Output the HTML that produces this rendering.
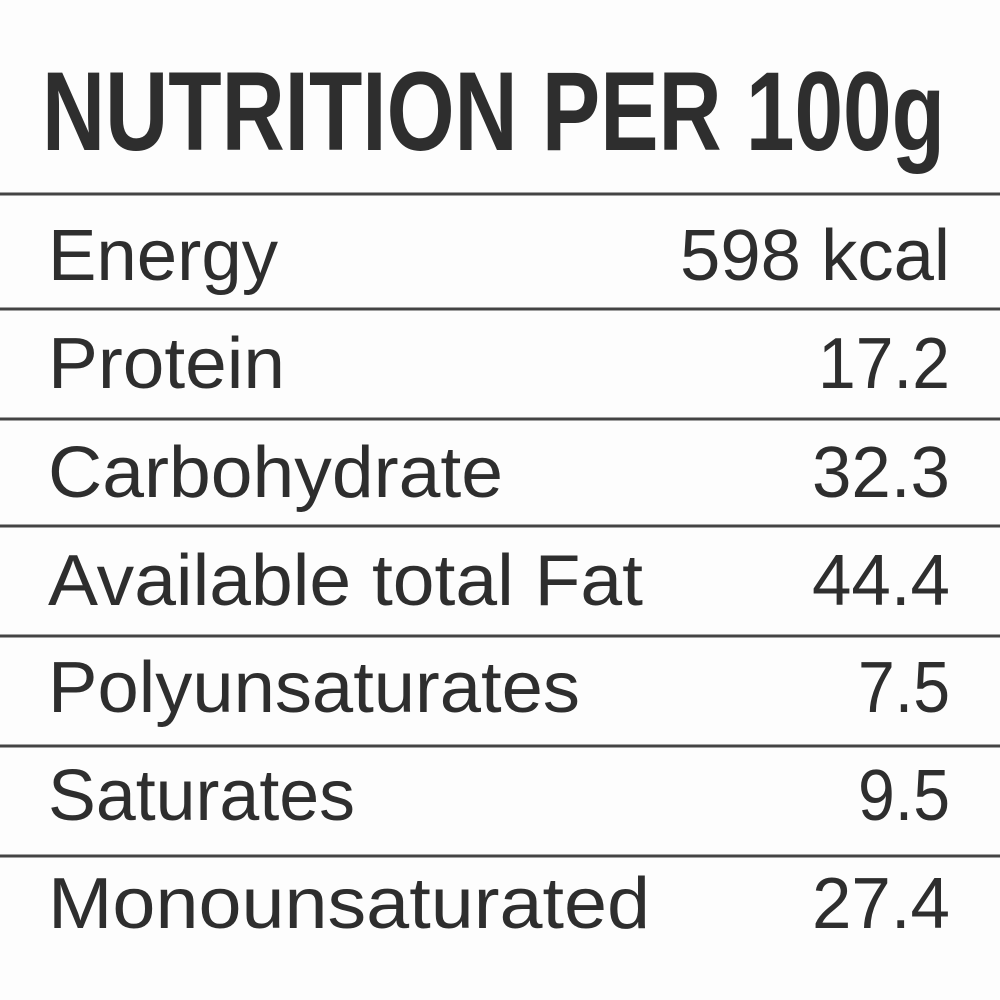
<!DOCTYPE html>
<html>
<head>
<meta charset="utf-8">
<style>
html,body{margin:0;padding:0;background:#fdfdfd;}
svg{display:block;}
text{font-family:"Liberation Sans",sans-serif;fill:#2e2e2e;}
</style>
</head>
<body>
<svg width="1000" height="1000" viewBox="0 0 1000 1000">
<rect x="0" y="0" width="1000" height="1000" fill="#fdfdfd"/>
<text x="42" y="150" font-size="112" font-weight="bold" textLength="903" lengthAdjust="spacingAndGlyphs" fill="#222">NUTRITION PER 100g</text>
<g stroke="#444" stroke-width="3">
<line x1="0" y1="194" x2="1000" y2="194"/>
<line x1="0" y1="309" x2="1000" y2="309"/>
<line x1="0" y1="419" x2="1000" y2="419"/>
<line x1="0" y1="526" x2="1000" y2="526"/>
<line x1="0" y1="636" x2="1000" y2="636"/>
<line x1="0" y1="746" x2="1000" y2="746"/>
<line x1="0" y1="856" x2="1000" y2="856"/>
</g>
<g font-size="72">
<text x="48" y="280" textLength="230" lengthAdjust="spacingAndGlyphs">Energy</text>
<text x="950" y="280" text-anchor="end" textLength="270" lengthAdjust="spacingAndGlyphs">598 kcal</text>
<text x="48" y="388" textLength="237" lengthAdjust="spacingAndGlyphs">Protein</text>
<text x="950" y="388" text-anchor="end" textLength="132" lengthAdjust="spacingAndGlyphs">17.2</text>
<text x="48" y="497" textLength="455" lengthAdjust="spacingAndGlyphs">Carbohydrate</text>
<text x="950" y="497" text-anchor="end" textLength="138" lengthAdjust="spacingAndGlyphs">32.3</text>
<text x="48" y="605" textLength="595" lengthAdjust="spacingAndGlyphs">Available total Fat</text>
<text x="950" y="605" text-anchor="end" textLength="138" lengthAdjust="spacingAndGlyphs">44.4</text>
<text x="48" y="712" textLength="532" lengthAdjust="spacingAndGlyphs">Polyunsaturates</text>
<text x="950" y="712" text-anchor="end" textLength="92" lengthAdjust="spacingAndGlyphs">7.5</text>
<text x="48" y="820" textLength="307" lengthAdjust="spacingAndGlyphs">Saturates</text>
<text x="950" y="820" text-anchor="end" textLength="92" lengthAdjust="spacingAndGlyphs">9.5</text>
<text x="48" y="928" textLength="602" lengthAdjust="spacingAndGlyphs">Monounsaturated</text>
<text x="950" y="928" text-anchor="end" textLength="138" lengthAdjust="spacingAndGlyphs">27.4</text>
</g>
</svg>
</body>
</html>
